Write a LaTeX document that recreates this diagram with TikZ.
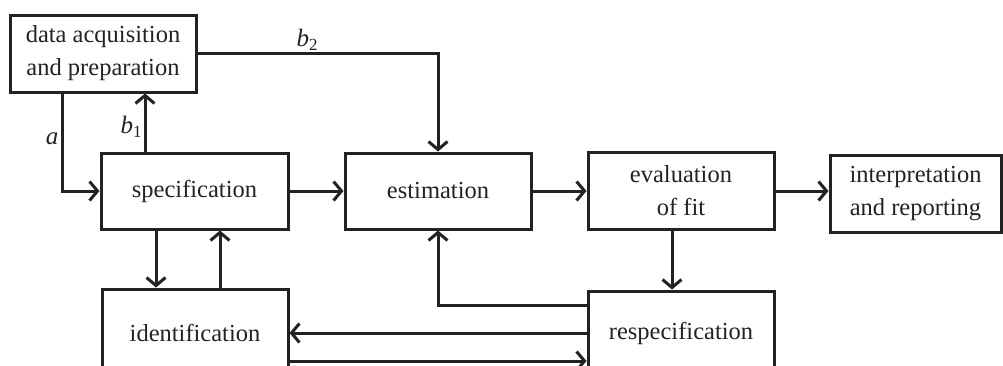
\documentclass[tikz,border=0pt]{standalone}
\usepackage{fontspec}
\setmainfont{Liberation Serif}
\usetikzlibrary{arrows.meta}
\definecolor{ink}{HTML}{222222}
\begin{document}
\begin{tikzpicture}[x=1pt,y=-1pt,
  box/.style={draw=ink,line width=3pt,inner sep=0pt,align=center,text=ink,
    font=\fontsize{24.5}{33}\selectfont},
  flow/.style={draw=ink,line width=3pt,-{Straight Barb[length=8pt,width=19pt]}},
  lab/.style={inner sep=0pt,text=ink,font=\fontsize{25}{25}\selectfont\itshape}]
\useasboundingbox (0,0) rectangle (1003,365);
\clip (0,0) rectangle (1003,365);

% process boxes
\node[box,minimum width=186pt,minimum height=77pt] (data) at (103,53.5) {data acquisition\\and preparation};
\node[box,minimum width=187pt,minimum height=76pt] (spec) at (194.5,191) {specification};
\node[box,minimum width=186pt,minimum height=76pt] (est) at (438,191) {estimation};
\node[box,minimum width=186pt,minimum height=77pt] (eval) at (681,191) {evaluation\\of fit};
\node[box,minimum width=171pt,minimum height=77pt] (interp) at (915.5,193.5) {interpretation\\and reporting};
\node[box,minimum width=186pt,minimum height=88pt] (ident) at (195,333) {identification};
\node[box,minimum width=186pt,minimum height=84pt] (respec) at (681,333) {respecification};

% connectors
\draw[flow] (62,0 |- data.south) |- (spec.west);
\draw[flow] (145,0 |- spec.north) -- (145,0 |- data.south);
\draw[flow] (data.east) -| (est.north);
\draw[flow] (spec.east) -- (est.west);
\draw[flow] (est.east) -- (est.east -| eval.west);
\draw[flow] (eval.east) -- (eval.east -| interp.west);
\draw[flow] (672,0 |- eval.south) -- (672,0 |- respec.north);
\draw[flow] (respec.west |- 0,305) -| (est.south);
\draw[flow] (respec.west) -- (ident.east);
\draw[flow] (ident.east |- 0,361) -- (respec.west |- 0,361);
\draw[flow] (156,0 |- spec.south) -- (156,0 |- ident.north);
\draw[flow] (220,0 |- ident.north) -- (220,0 |- spec.south);

% path labels
\node[lab] (la) at (52,139) {a};
\node[lab] (lb1) at (131,127) {b\/\raisebox{-0.35ex}{\upshape\fontsize{17}{17}\selectfont 1}};
\node[lab] (lb2) at (307,40) {b\/\raisebox{-0.35ex}{\upshape\fontsize{17}{17}\selectfont 2}};
\end{tikzpicture}
\end{document}
